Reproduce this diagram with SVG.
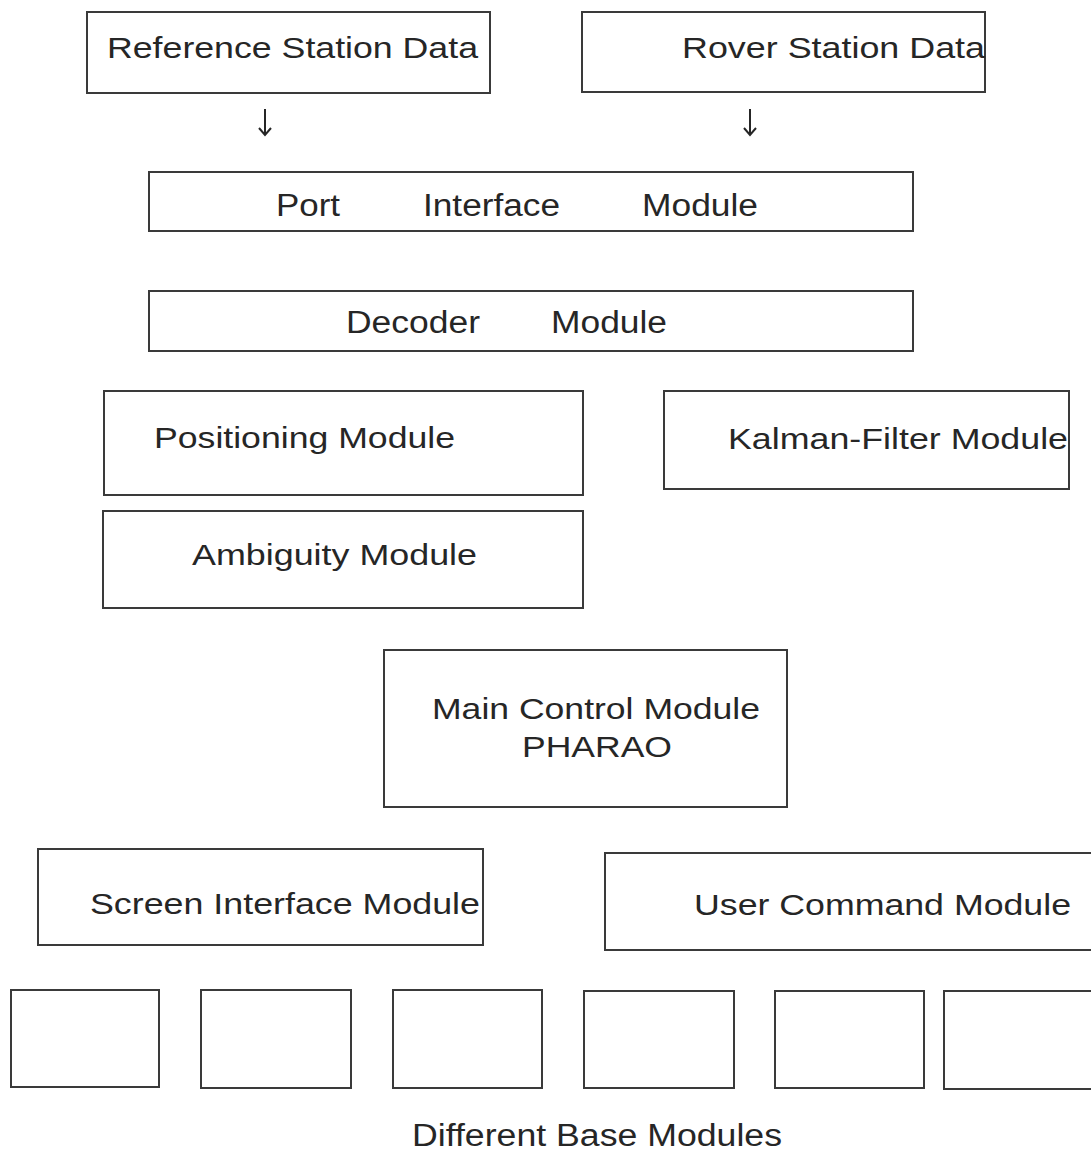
<svg xmlns="http://www.w3.org/2000/svg" width="1091" height="1151" viewBox="0 0 1091 1151">
  <style>
    .box { fill: none; stroke: #3a3a3a; stroke-width: 2; }
    .lbl { font-family: "Liberation Sans", Arial, sans-serif; font-size: 29px; fill: #262626; }
    .narrow { font-size: 31px; }
    .arrow { fill: none; stroke: #262626; stroke-width: 2; }
  </style>
  <rect x="0" y="0" width="1091" height="1151" fill="#ffffff"/>

  <!-- data sources -->
  <g id="reference-station">
    <rect class="box" x="87" y="12" width="403" height="81"/>
    <text class="lbl" x="107" y="58" textLength="371" lengthAdjust="spacingAndGlyphs">Reference Station Data</text>
  </g>
  <g id="rover-station">
    <rect class="box" x="582" y="12" width="403" height="80"/>
    <text class="lbl" x="682" y="58" textLength="303" lengthAdjust="spacingAndGlyphs">Rover Station Data</text>
  </g>

  <!-- data flow arrows -->
  <g id="connectors">
    <path class="arrow" d="M265 109 V135 M259 128 L265 135 L271 128"/>
    <path class="arrow" d="M750 109 V135 M744 128 L750 135 L756 128"/>
  </g>

  <g id="port-interface">
    <rect class="box" x="149" y="172" width="764" height="59"/>
    <text class="lbl narrow" x="276" y="216" textLength="64" lengthAdjust="spacingAndGlyphs">Port</text>
    <text class="lbl narrow" x="423" y="216" textLength="137" lengthAdjust="spacingAndGlyphs">Interface</text>
    <text class="lbl narrow" x="642" y="216" textLength="116" lengthAdjust="spacingAndGlyphs">Module</text>
  </g>

  <g id="decoder">
    <rect class="box" x="149" y="291" width="764" height="60"/>
    <text class="lbl narrow" x="346" y="333" textLength="134" lengthAdjust="spacingAndGlyphs">Decoder</text>
    <text class="lbl narrow" x="551" y="333" textLength="116" lengthAdjust="spacingAndGlyphs">Module</text>
  </g>

  <g id="positioning">
    <rect class="box" x="104" y="391" width="479" height="104"/>
    <text class="lbl" x="154" y="448" textLength="301" lengthAdjust="spacingAndGlyphs">Positioning Module</text>
  </g>

  <g id="kalman-filter">
    <rect class="box" x="664" y="391" width="405" height="98"/>
    <text class="lbl" x="728" y="449" textLength="340" lengthAdjust="spacingAndGlyphs">Kalman-Filter Module</text>
  </g>

  <g id="ambiguity">
    <rect class="box" x="103" y="511" width="480" height="97"/>
    <text class="lbl" x="192" y="565" textLength="285" lengthAdjust="spacingAndGlyphs">Ambiguity Module</text>
  </g>

  <g id="main-control">
    <rect class="box" x="384" y="650" width="403" height="157"/>
    <text class="lbl" x="432" y="719" textLength="328" lengthAdjust="spacingAndGlyphs">Main Control Module</text>
    <text class="lbl" x="522" y="757" textLength="150" lengthAdjust="spacingAndGlyphs">PHARAO</text>
  </g>

  <g id="screen-interface">
    <rect class="box" x="38" y="849" width="445" height="96"/>
    <text class="lbl" x="90" y="914" textLength="390" lengthAdjust="spacingAndGlyphs">Screen Interface Module</text>
  </g>

  <g id="user-command">
    <rect class="box" x="605" y="853" width="490" height="97"/>
    <text class="lbl" x="694" y="915" textLength="377" lengthAdjust="spacingAndGlyphs">User Command Module</text>
  </g>

  <!-- row of base modules -->
  <g id="base-module-1"><rect class="box" x="11" y="990" width="148" height="97"/></g>
  <g id="base-module-2"><rect class="box" x="201" y="990" width="150" height="98"/></g>
  <g id="base-module-3"><rect class="box" x="393" y="990" width="149" height="98"/></g>
  <g id="base-module-4"><rect class="box" x="584" y="991" width="150" height="97"/></g>
  <g id="base-module-5"><rect class="box" x="775" y="991" width="149" height="97"/></g>
  <g id="base-module-6"><rect class="box" x="944" y="991" width="152" height="98"/></g>

  <g id="base-modules-caption">
    <text class="lbl narrow" x="412" y="1146" textLength="370" lengthAdjust="spacingAndGlyphs">Different Base Modules</text>
  </g>
</svg>
